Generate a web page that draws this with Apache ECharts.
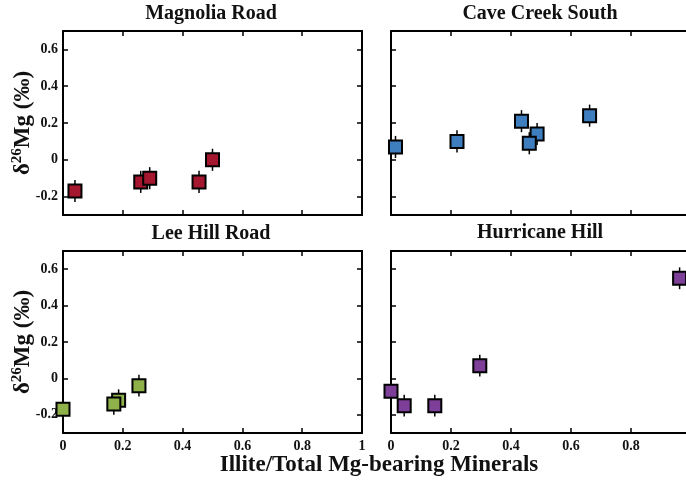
<!DOCTYPE html>
<html>
<head>
<meta charset="utf-8">
<script src="https://cdn.jsdelivr.net/npm/echarts@6/dist/echarts.min.js"></script>
<style>
html,body{margin:0;padding:0;background:#fff;}
#chart{width:686px;height:483px;}
</style>
</head>
<body>
<div id="chart"></div>
<script>
// ---- data ----
const panelTitles = ['Magnolia Road', 'Cave Creek South', 'Lee Hill Road', 'Hurricane Hill'];
const panelColors = ['#A5172F', '#3E7EBE', '#8FB14A', '#7D3F97'];

const magnoliaX = [0.04, 0.26, 0.29, 0.455, 0.50];
const magnoliaY = [-0.17, -0.12, -0.10, -0.12, 0.00];
const magnoliaErr = [0.06, 0.06, 0.06, 0.06, 0.06];

const caveCreekX = [0.015, 0.22, 0.435, 0.487, 0.461, 0.662];
const caveCreekY = [0.07, 0.10, 0.21, 0.14, 0.09, 0.24];
const caveCreekErr = [0.06, 0.06, 0.06, 0.06, 0.06, 0.06];

const leeHillX = [0.0, 0.186, 0.17, 0.254];
const leeHillY = [-0.17, -0.12, -0.14, -0.04];
const leeHillErr = [0.06, 0.06, 0.06, 0.06];

const hurricaneX = [0.0, 0.044, 0.146, 0.296, 0.962];
const hurricaneY = [-0.07, -0.15, -0.15, 0.07, 0.55];
const hurricaneErr = [0.06, 0.06, 0.06, 0.06, 0.06];

const xTicks = [0, 0.2, 0.4, 0.6, 0.8, 1];
const yTicks = [-0.2, 0, 0.2, 0.4, 0.6];
const xRange = [0, 1];
const yRange = [-0.3, 0.7];

const xAxisTitle = 'Illite/Total Mg-bearing Minerals';
const yAxisTitle = ['δ', '26', 'Mg (‰)'];

// ---- build ----
const FONT = '"Liberation Serif", "Times New Roman", serif';
const panels = [
  {x: magnoliaX, y: magnoliaY, e: magnoliaErr},
  {x: caveCreekX, y: caveCreekY, e: caveCreekErr},
  {x: leeHillX, y: leeHillY, e: leeHillErr},
  {x: hurricaneX, y: hurricaneY, e: hurricaneErr}
];

const grids = [
  {left: 63, top: 31, width: 299, height: 184, outerBoundsMode: 'none', containLabel: false},
  {left: 391, top: 31, width: 300, height: 184, outerBoundsMode: 'none', containLabel: false},
  {left: 63, top: 251, width: 299, height: 182, outerBoundsMode: 'none', containLabel: false},
  {left: 391, top: 251, width: 300, height: 182, outerBoundsMode: 'none', containLabel: false}
];

const lineStyle = {color: '#000', width: 2};
const tickStyle = {color: '#000', width: 1.5};
const labelStyle = {color: '#111', fontFamily: FONT, fontWeight: 'bold', fontSize: 14};

function fmt(v) { return v === 0 ? '0' : String(Math.round(v * 10) / 10); }

const xAxes = [], yAxes = [];
for (let g = 0; g < 4; g++) {
  const showX = g >= 2, showY = g % 2 === 0;
  xAxes.push({type: 'value', gridIndex: g, position: 'bottom', min: xRange[0], max: xRange[1],
    axisLine: {show: true, onZero: false, lineStyle},
    axisTick: {show: true, inside: true, length: 5, lineStyle: tickStyle, customValues: xTicks},
    axisLabel: Object.assign({show: showX, margin: 6, formatter: fmt, customValues: xTicks, showMinLabel: true, showMaxLabel: true}, labelStyle),
    splitLine: {show: false}});
  yAxes.push({type: 'value', gridIndex: g, position: 'left', min: yRange[0], max: yRange[1],
    axisLine: {show: true, onZero: false, lineStyle},
    axisTick: {show: true, inside: true, length: 5, lineStyle: tickStyle, customValues: yTicks},
    axisLabel: Object.assign({show: showY, margin: 5, formatter: fmt, customValues: yTicks}, labelStyle),
    splitLine: {show: false}});
}
for (let g = 0; g < 4; g++) {
  xAxes.push({type: 'value', gridIndex: g, position: 'top', min: xRange[0], max: xRange[1],
    axisLine: {show: true, onZero: false, lineStyle},
    axisTick: {show: true, inside: true, length: 5, lineStyle: tickStyle, customValues: xTicks},
    axisLabel: {show: false}, splitLine: {show: false}});
  yAxes.push({type: 'value', gridIndex: g, position: 'right', min: yRange[0], max: yRange[1],
    axisLine: {show: true, onZero: false, lineStyle},
    axisTick: {show: true, inside: true, length: 5, lineStyle: tickStyle, customValues: yTicks},
    axisLabel: {show: false}, splitLine: {show: false}});
}

const series = [];
panels.forEach((p, g) => {
  const pts = p.x.map((xv, i) => [xv, p.y[i], p.e[i]]);
  series.push({
    type: 'custom', xAxisIndex: g, yAxisIndex: g, z: 3, clip: false,
    data: pts,
    renderItem: function (params, api) {
      const x = api.value(0), y = api.value(1), e = api.value(2);
      const a = api.coord([x, y - e]), b = api.coord([x, y + e]);
      return {type: 'line', shape: {x1: a[0], y1: a[1], x2: b[0], y2: b[1]},
        style: {stroke: '#000', lineWidth: 1.5}};
    }
  });
  series.push({
    type: 'scatter', xAxisIndex: g, yAxisIndex: g, z: 4, clip: false,
    symbol: 'rect', symbolSize: 13,
    itemStyle: {color: panelColors[g], borderColor: '#000', borderWidth: 2, opacity: 1},
    data: pts.map(d => [d[0], d[1]])
  });
});

const graphics = [];
const titlePos = [[211, 14], [540, 14], [211, 234], [540, 233]];
panelTitles.forEach((t, i) => {
  graphics.push({type: 'text', x: titlePos[i][0], y: titlePos[i][1],
    style: {text: t, fill: '#111', font: 'bold 20px ' + FONT, align: 'center', verticalAlign: 'middle'}});
});
graphics.push({type: 'text', x: 379, y: 465,
  style: {text: xAxisTitle, fill: '#111', font: 'bold 23px ' + FONT, align: 'center', verticalAlign: 'middle'}});
[123, 342].forEach(cy => {
  graphics.push({type: 'text', x: 23, y: cy, rotation: Math.PI / 2,
    style: {
      text: '{a|' + yAxisTitle[0] + '}{s|' + yAxisTitle[1] + '}{a|' + yAxisTitle[2] + '}',
      align: 'center', verticalAlign: 'middle',
      rich: {
        a: {fill: '#111', fontFamily: FONT, fontWeight: 'bold', fontSize: 23, lineHeight: 26},
        s: {fill: '#111', fontFamily: FONT, fontWeight: 'bold', fontSize: 15, lineHeight: 26, verticalAlign: 'top'}
      }
    }});
});

const chart = echarts.init(document.getElementById('chart'), null, {renderer: 'canvas'});
chart.setOption({
  animation: false,
  backgroundColor: '#fff',
  grid: grids,
  xAxis: xAxes,
  yAxis: yAxes,
  series,
  graphic: graphics
});
</script>
</body>
</html>
